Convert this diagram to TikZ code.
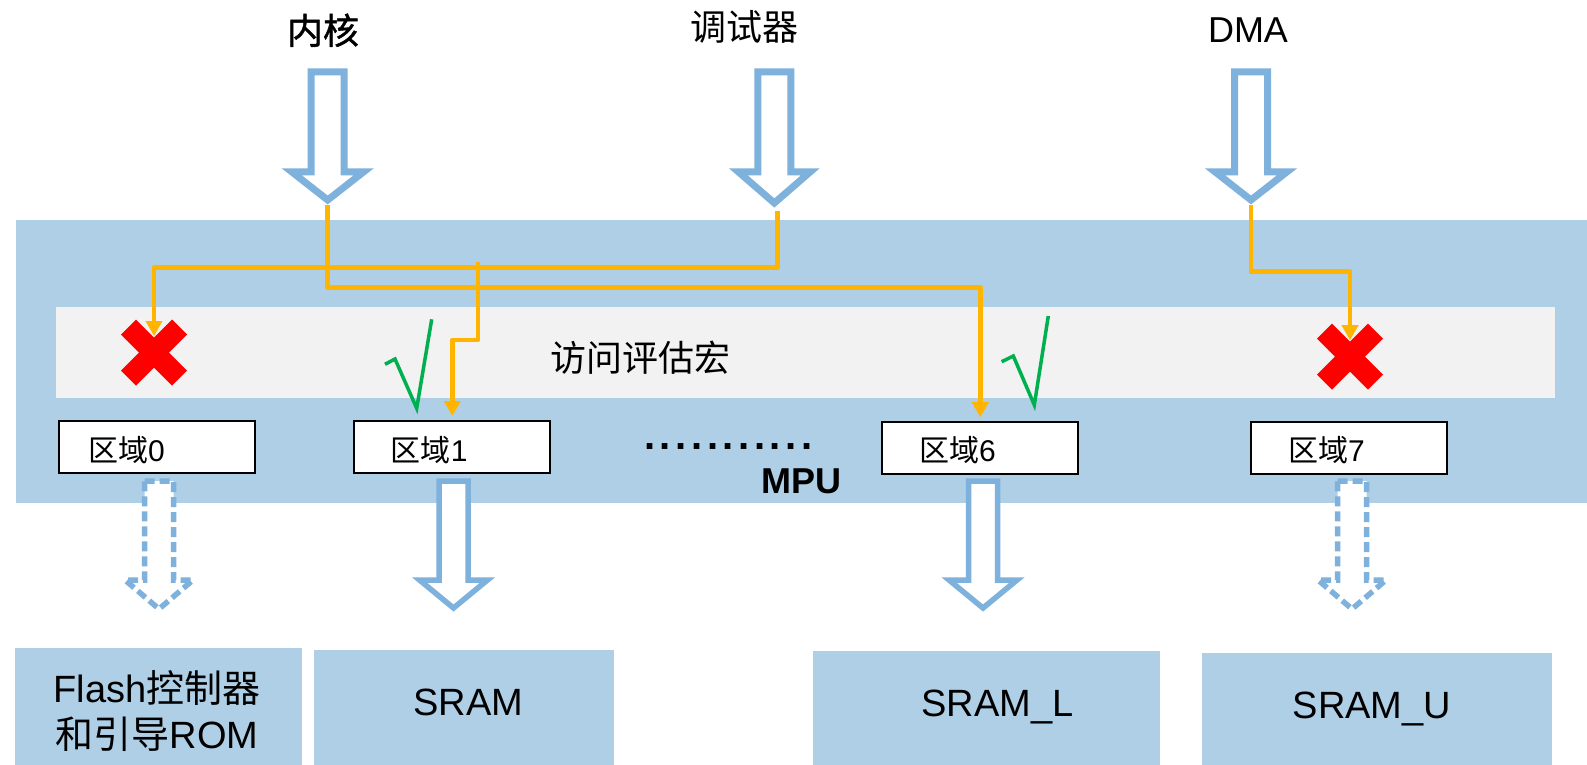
\documentclass[tikz,border=0pt]{standalone}
\usepackage{fontspec}
\setmainfont{Liberation Sans}
\newfontfamily\cjk{Noto Sans CJK SC}
\newfontfamily\cjkheavy{Noto Sans CJK SC}[FakeBold=1.2]
\usetikzlibrary{arrows.meta,calc}

\definecolor{mpublue}{HTML}{AFCFE7}
\definecolor{arrowblue}{HTML}{7EB1DC}
\definecolor{bandgray}{HTML}{F2F2F2}
\definecolor{pathorange}{HTML}{FFB400}
\definecolor{okgreen}{HTML}{00B050}
\definecolor{denyred}{HTML}{FF0000}

% hollow block arrow pointing down: centre x, top, wing y, tip y, shaft half width, head half width
\newcommand\blockarrow[6]{({#1-#5},#2) -- ({#1+#5},#2) -- ({#1+#5},#3) -- ({#1+#6},#3) -- (#1,#4) -- ({#1-#6},#3) -- ({#1-#5},#3) -- cycle}
% thick red cross centred on a named coordinate
\newcommand\crossmark[1]{\fill[denymark] ($(#1)+(-33,-18)$) -- ($(#1)+(-18,-33)$) -- ($(#1)+(0,-15)$) -- ($(#1)+(18,-33)$) -- ($(#1)+(33,-18)$) -- ($(#1)+(15,0)$) -- ($(#1)+(33,18)$) -- ($(#1)+(18,33)$) -- ($(#1)+(0,15)$) -- ($(#1)+(-18,33)$) -- ($(#1)+(-33,18)$) -- ($(#1)+(-15,0)$) -- cycle;}
\newcommand\dotrow{.\kern4.6pt.\kern4.6pt.\kern4.6pt.\kern4.6pt.\kern4.6pt.\kern4.6pt.\kern4.6pt.\kern4.6pt.\kern4.6pt.\kern4.6pt.}

\tikzset{
  inarrow/.style={draw=arrowblue, line width=7pt, fill=white},
  outarrow/.style={draw=arrowblue, line width=5.5pt, fill=white},
  outarrowdashed/.style={outarrow, dash pattern=on 10pt off 5pt},
  access/.style={draw=pathorange, line width=4.5pt, line join=round, -{Triangle[length=15pt,width=16pt]}},
  regionbox/.style={draw=black, line width=2pt, fill=white, minimum width=196pt, minimum height=52pt, inner sep=0pt},
  regionlabel/.style={font=\fontsize{30}{36}\selectfont, inner sep=0pt, anchor=base west},
  toplabel/.style={font=\fontsize{36}{40}\selectfont, inner sep=0pt, anchor=base},
  memlabel/.style={font=\fontsize{38}{46}\selectfont, inner sep=0pt, align=center},
  memfill/.style={fill=mpublue},
  okmark/.style={draw=okgreen, line width=3.5pt, line join=miter},
  denymark/.style={fill=denyred},
}

\begin{document}
\begin{tikzpicture}[x=1pt, y=-1pt]
\useasboundingbox (0,0) rectangle (1587,765);
\fill[white] (0,0) rectangle (1587,765);

% MPU block and the access evaluation band
\fill[mpublue] (16,220) rectangle (1587,502.7);
\fill[bandgray] (56,306.7) rectangle (1555,397.7);
\node[toplabel] (eval) at (640,371) {\cjk 访问评估宏};
\node[toplabel, font=\bfseries\fontsize{36}{40}\selectfont] (mpu) at (801.7,493) {MPU};
\node[font=\bfseries\fontsize{40}{40}\selectfont, inner sep=0pt, anchor=base west] (more) at (644,449.5) {\dotrow};

% bus masters
\node[toplabel] (core) at (323,44) {\cjkheavy 内核};
\node[toplabel] (dbg) at (744,41) {\cjk 调试器};
\node[toplabel] (dma) at (1248,43) {DMA};
\draw[inarrow] \blockarrow{327.7}{71.8}{171.8}{200}{16.5}{36};
\draw[inarrow] \blockarrow{774.3}{71.8}{171.8}{203}{16.5}{36};
\draw[inarrow] \blockarrow{1251}{71.8}{171.8}{200}{16.5}{36};
\coordinate (coreTip) at (327.7,205);
\coordinate (dbgTip) at (777.7,210.7);
\coordinate (dmaTip) at (1251,205);
\coordinate (dbgBranch) at (478,262);

% regions
\node[regionbox] (r0) at (157,447) {};
\node[regionbox] (r1) at (452.3,447) {};
\node[regionbox] (r6) at (980.3,448.2) {};
\node[regionbox] (r7) at (1349.2,447.9) {};
\node[regionlabel] (r0t) at (88,461) {{\cjk 区域}0};
\node[regionlabel] (r1t) at (390.7,461) {{\cjk 区域}1};
\node[regionlabel] (r6t) at (919,461.5) {{\cjk 区域}6};
\node[regionlabel] (r7t) at (1288,461) {{\cjk 区域}7};

% verdicts
\coordinate (deny0) at (154,352.5);
\coordinate (deny7) at (1350,356.7);
\crossmark{deny0}
\crossmark{deny7}
\draw[okmark] (385,364.3) -- (395,359) -- (416.7,408.3) -- (431.7,319.3);
\draw[okmark] (1001.7,361.7) -- (1013.3,356) -- (1034.3,405) -- (1048.3,316);

% access paths
\draw[access] (dbgTip) -- (777.7,267.7) -- (154,267.7) -- ($(deny0)+(0,-16.5)$);
\draw[access] (dbgBranch) -- (478,340) -- (452.3,340) -- ([yshift=4pt]r1.north);
\draw[access] (coreTip) -- (327.7,287.3) -- (980.3,287.3) -- ([yshift=4pt]r6.north);
\draw[access] (dmaTip) -- (1251,271.7) -- (1350,271.7) -- ($(deny7)+(0,-16.5)$);

% outputs towards memories
\draw[outarrowdashed] \blockarrow{159}{481}{580}{609}{14.5}{34};
\draw[outarrow] \blockarrow{453.5}{481}{580}{608}{14.5}{34};
\draw[outarrow] \blockarrow{983}{481}{580}{608}{14.5}{34};
\draw[outarrowdashed] \blockarrow{1352}{481}{580}{609}{14.5}{34};

% memories
\fill[memfill] (15,648) rectangle (302,765);
\fill[memfill] (314,650) rectangle (614,765);
\fill[memfill] (813,651) rectangle (1160,765);
\fill[memfill] (1202,653) rectangle (1552,765);
\node[memlabel] (flash) at (157,711.5) {Flash{\cjk 控制器}\\{\cjk 和引导}ROM};
\node[memlabel, anchor=base] (sram) at (468.5,715.7) {SRAM};
\node[memlabel, anchor=base] (sraml) at (997.5,716.5) {SRAM\_L};
\node[memlabel, anchor=base] (sramu) at (1372,718.3) {SRAM\_U};
\end{tikzpicture}
\end{document}
